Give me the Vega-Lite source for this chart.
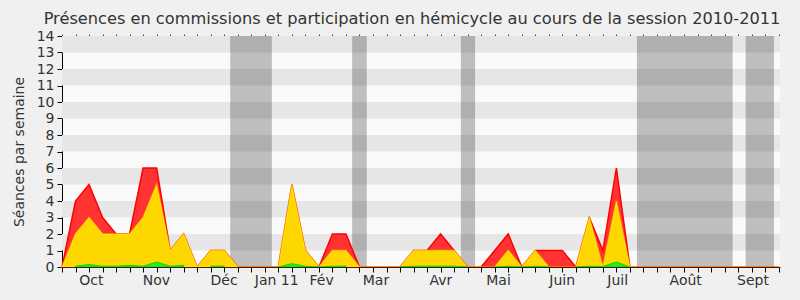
{
  "$schema": "https://vega.github.io/schema/vega-lite/v6.json",
  "width": 718,
  "height": 231,
  "autosize": "none",
  "padding": {"left": 62, "top": 36, "right": 20, "bottom": 33},
  "background": "#f0f0f0",
  "title": {"text": "Présences en commissions et participation en hémicycle au cours de la session 2010-2011", "font": "DejaVu Sans", "fontSize": 16.2, "fontWeight": "normal", "color": "#333333", "offset": 2, "dx": -9},
  "datasets": {
    "weeks": [
      {"w":0,"red":0,"yellow":0,"green":null},
      {"w":1,"red":4,"yellow":2,"green":0.05},
      {"w":2,"red":5,"yellow":3,"green":0.15},
      {"w":3,"red":3,"yellow":2,"green":0.05},
      {"w":4,"red":2,"yellow":2,"green":0.05},
      {"w":5,"red":2,"yellow":2,"green":0.1},
      {"w":6,"red":6,"yellow":3,"green":0.05},
      {"w":7,"red":6,"yellow":5,"green":0.3},
      {"w":8,"red":1,"yellow":1,"green":0.05},
      {"w":9,"red":2,"yellow":2,"green":0.1},
      {"w":10,"red":0,"yellow":0,"green":null},
      {"w":11,"red":1,"yellow":1,"green":0.05},
      {"w":12,"red":1,"yellow":1,"green":0.05},
      {"w":13,"red":0,"yellow":0,"green":null},
      {"w":14,"red":0,"yellow":0,"green":null},
      {"w":15,"red":0,"yellow":0,"green":null},
      {"w":16,"red":0,"yellow":0,"green":0},
      {"w":17,"red":5,"yellow":5,"green":0.2},
      {"w":18,"red":1,"yellow":1,"green":0.05},
      {"w":19,"red":0,"yellow":0,"green":0},
      {"w":20,"red":2,"yellow":1,"green":0.05},
      {"w":21,"red":2,"yellow":1,"green":0.05},
      {"w":22,"red":0,"yellow":0,"green":null},
      {"w":23,"red":0,"yellow":0,"green":null},
      {"w":24,"red":0,"yellow":0,"green":null},
      {"w":25,"red":0,"yellow":0,"green":0},
      {"w":26,"red":1,"yellow":1,"green":0.05},
      {"w":27,"red":1,"yellow":1,"green":0.05},
      {"w":28,"red":2,"yellow":1,"green":0.05},
      {"w":29,"red":1,"yellow":1,"green":0.05},
      {"w":30,"red":0,"yellow":0,"green":0},
      {"w":31,"red":0,"yellow":0,"green":null},
      {"w":32,"red":1,"yellow":0,"green":0},
      {"w":33,"red":2,"yellow":1,"green":0.05},
      {"w":34,"red":0,"yellow":0,"green":0},
      {"w":35,"red":1,"yellow":1,"green":0.05},
      {"w":36,"red":1,"yellow":0,"green":0},
      {"w":37,"red":1,"yellow":0,"green":null},
      {"w":38,"red":0,"yellow":0,"green":0},
      {"w":39,"red":3,"yellow":3,"green":0.05},
      {"w":40,"red":1,"yellow":0,"green":0.03},
      {"w":41,"red":6,"yellow":4,"green":0.3},
      {"w":42,"red":0,"yellow":0,"green":0},
      {"w":43,"red":0,"yellow":0,"green":null},
      {"w":44,"red":0,"yellow":0,"green":null},
      {"w":45,"red":0,"yellow":0,"green":null},
      {"w":46,"red":0,"yellow":0,"green":null},
      {"w":47,"red":0,"yellow":0,"green":null},
      {"w":48,"red":0,"yellow":0,"green":null},
      {"w":49,"red":0,"yellow":0,"green":null},
      {"w":50,"red":0,"yellow":0,"green":null},
      {"w":51,"red":0,"yellow":0,"green":null},
      {"w":52,"red":0,"yellow":0,"green":null},
      {"w":53,"red":0,"yellow":0,"green":null}
    ],
    "stripes": [
      {"lo":1,"hi":2},{"lo":3,"hi":4},{"lo":5,"hi":6},{"lo":7,"hi":8},
      {"lo":9,"hi":10},{"lo":11,"hi":12},{"lo":13,"hi":14}
    ],
    "vacances": [
      {"start":12.44,"end":15.52},
      {"start":21.46,"end":22.54},
      {"start":29.5,"end":30.55},
      {"start":42.52,"end":49.6},
      {"start":50.56,"end":52.65}
    ]
  },
  "layer": [
    {
      "data": {"name": "stripes"},
      "mark": {"type": "rect", "color": "#e6e6e6"},
      "encoding": {
        "y": {"field": "lo", "type": "quantitative", "title": "Séances par semaine", "scale": {"domain": [0, 14], "nice": false},
              "axis": {"values": [0,1,2,3,4,5,6,7,8,9,10,11,12,13,14]}},
        "y2": {"field": "hi"}
      }
    },
    {
      "data": {"name": "vacances"},
      "mark": {"type": "rect", "color": "#000000", "opacity": 0.24},
      "encoding": {
        "x": {"field": "start", "type": "quantitative", "scale": {"domain": [0, 53.1], "nice": false, "zero": false},
              "axis": {"orient": "top", "title": null, "labels": false, "domain": false, "tickSize": 2, "tickColor": "#444444",
                       "values": [0,1,2,3,4,5,6,7,8,9,10,11,12,13,14,15,16,17,18,19,20,21,22,23,24,25,26,27,28,29,30,31,32,33,34,35,36,37,38,39,40,41,42,43,44,45,46,47,48,49,50,51,52,53]}},
        "x2": {"field": "end"}
      }
    },
    {
      "data": {"name": "weeks"},
      "mark": {"type": "area", "color": "#ff3333", "stroke": "#ff0000", "strokeWidth": 1.5, "fillOpacity": 1},
      "encoding": {
        "x": {"field": "w", "type": "quantitative", "scale": {"domain": [0, 53.1], "nice": false, "zero": false},
              "axis": {"orient": "bottom", "title": null, "labelPadding": 1, "labelOverlap": false, "labelBound": false, "labelFlush": false, "zindex": 1, "domainColor": "#4a1505",
                       "values": [0,1,2,3,4,5,6,7,8,9,10,11,12,13,14,15,16,17,18,19,20,21,22,23,24,25,26,27,28,29,30,31,32,33,34,35,36,37,38,39,40,41,42,43,44,45,46,47,48,49,50,51,52,53,2.13,6.95,11.95,15.84,19.16,23.18,27.98,32.25,36.95,41.06,46.09,51.07],
                       "labelExpr": "indexof([2.13,6.95,11.95,15.84,19.16,23.18,27.98,32.25,36.95,41.06,46.09,51.07], datum.value) < 0 ? '' : ['Oct','Nov','Déc','Jan 11','Fév','Mar','Avr','Mai','Juin','Juil','Août','Sept'][indexof([2.13,6.95,11.95,15.84,19.16,23.18,27.98,32.25,36.95,41.06,46.09,51.07], datum.value)]",
                       "tickOpacity": {"condition": {"test": "datum.value % 1 != 0", "value": 0}, "value": 1}}},
        "y": {"field": "red", "type": "quantitative", "title": "Séances par semaine", "stack": null,
              "axis": {"values": [0,1,2,3,4,5,6,7,8,9,10,11,12,13,14]}}
      }
    },
    {
      "data": {"name": "weeks"},
      "mark": {"type": "area", "color": "#ffd700", "stroke": "#ffff00", "strokeOpacity": 0.5, "strokeWidth": 1.5, "fillOpacity": 1},
      "encoding": {
        "x": {"field": "w", "type": "quantitative", "scale": {"domain": [0, 53.1], "nice": false, "zero": false}, "axis": null},
        "y": {"field": "yellow", "type": "quantitative", "title": "Séances par semaine", "stack": null,
              "axis": {"values": [0,1,2,3,4,5,6,7,8,9,10,11,12,13,14]}}
      }
    },
    {
      "data": {"name": "weeks"},
      "mark": {"type": "area", "color": "#22ee22", "stroke": "#00dd00", "strokeWidth": 1, "fillOpacity": 1},
      "encoding": {
        "x": {"field": "w", "type": "quantitative", "scale": {"domain": [0, 53.1], "nice": false, "zero": false}, "axis": null},
        "y": {"field": "green", "type": "quantitative", "title": "Séances par semaine", "stack": null,
              "axis": {"values": [0,1,2,3,4,5,6,7,8,9,10,11,12,13,14]}}
      }
    }
  ],
  "resolve": {"axis": {"x": "independent"}},
  "config": {
    "font": "DejaVu Sans",
    "view": {"fill": "#fafafa", "stroke": null},
    "axis": {
      "grid": false,
      "domainColor": "#000000",
      "tickColor": "#000000",
      "tickSize": 5,
      "labelColor": "#333333",
      "labelFontSize": 14,
      "labelFont": "DejaVu Sans",
      "titleFont": "DejaVu Sans",
      "titleFontSize": 14,
      "titleFontWeight": "normal",
      "titleColor": "#333333"
    },
    "axisY": {"labelPadding": 3, "titlePadding": 10, "labelOverlap": false}
  }
}
